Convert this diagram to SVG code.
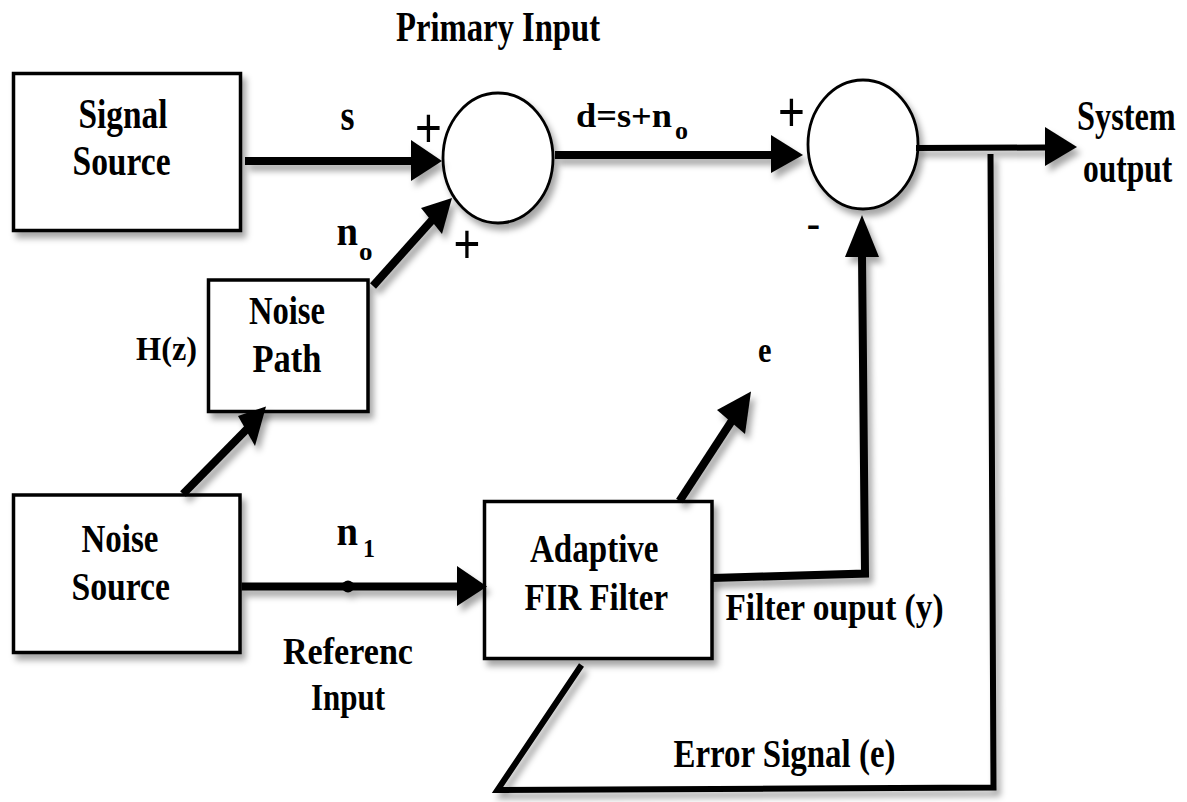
<svg xmlns="http://www.w3.org/2000/svg" width="1187" height="802" viewBox="0 0 1187 802">
<defs>
<filter id="sh" x="-20%" y="-20%" width="140%" height="140%">
<feDropShadow dx="4" dy="6" stdDeviation="3" flood-color="#000" flood-opacity="0.35"/>
</filter>
<style>
.box{fill:#fff;stroke:#000;stroke-width:3.5;filter:url(#sh)}
.sum{fill:#fff;stroke:#000;stroke-width:2.8;filter:url(#sh)}
.ln{fill:none;stroke:#000;stroke-width:8;stroke-linejoin:miter}
.ln2{fill:none;stroke:#000;stroke-width:6;stroke-linejoin:miter}
.ah{fill:#000;stroke:none}
.t{font-family:"Liberation Serif","Times New Roman",serif;font-weight:bold;fill:#000}
.sg{font-family:"Liberation Sans",Arial,sans-serif;font-weight:normal;fill:#000}
</style>
</defs>
<rect width="1187" height="802" fill="#fff"/>

<text class="t" x="396" y="41" font-size="42" textLength="204" lengthAdjust="spacingAndGlyphs">Primary Input</text>

<g id="signal-source">
<rect class="box" x="13.5" y="73.5" width="227" height="157"/>
<text class="t" x="78.5" y="127.5" font-size="42" textLength="89" lengthAdjust="spacingAndGlyphs">Signal</text>
<text class="t" x="72.5" y="175" font-size="42" textLength="98" lengthAdjust="spacingAndGlyphs">Source</text>
</g>

<g id="noise-path">
<rect class="box" x="208.5" y="280" width="159.5" height="131.5"/>
<text class="t" x="249" y="323.5" font-size="40" textLength="76" lengthAdjust="spacingAndGlyphs">Noise</text>
<text class="t" x="252.5" y="371.5" font-size="40" textLength="69" lengthAdjust="spacingAndGlyphs">Path</text>
<text class="t" x="136" y="360" font-size="34" textLength="61" lengthAdjust="spacingAndGlyphs">H(z)</text>
</g>

<g id="noise-source">
<rect class="box" x="13.5" y="495" width="226.5" height="157.5"/>
<text class="t" x="81.5" y="551.5" font-size="40" textLength="77" lengthAdjust="spacingAndGlyphs">Noise</text>
<text class="t" x="71.5" y="600" font-size="40" textLength="98.5" lengthAdjust="spacingAndGlyphs">Source</text>
</g>

<g id="adaptive-filter">
<rect class="box" x="484.5" y="501.5" width="227.5" height="157"/>
<text class="t" x="530" y="561.5" font-size="40" textLength="128.5" lengthAdjust="spacingAndGlyphs">Adaptive</text>
<text class="t" x="524.5" y="610" font-size="38" textLength="143.5" lengthAdjust="spacingAndGlyphs">FIR Filter</text>
</g>

<g id="sum1">
<ellipse class="sum" cx="498" cy="158" rx="55" ry="65"/>
<text class="sg" transform="translate(428.5,127.5) scale(1,1.2)" y="16" font-size="46" text-anchor="middle">+</text>
<text class="sg" transform="translate(467,244) scale(1,1.2)" y="16" font-size="46" text-anchor="middle">+</text>
</g>

<g id="sum2">
<ellipse class="sum" cx="863" cy="144.5" rx="55" ry="64.5"/>
<text class="sg" transform="translate(791.5,111.5) scale(1,1.2)" y="16" font-size="46" text-anchor="middle">+</text>
<text class="t" x="813.5" y="237" font-size="40" text-anchor="middle">-</text>
</g>

<g id="connectors" filter="url(#sh)">
<line class="ln" x1="245" y1="161" x2="413" y2="161"/>
<polygon class="ah" points="442,161 411,140 411,181"/>

<line class="ln" x1="555" y1="155" x2="774" y2="155"/>
<polygon class="ah" points="803,155 771,135 771,173"/>

<line class="ln" x1="373" y1="286" x2="433" y2="219"/>
<polygon class="ah" points="452,198 421,208 442,234"/>

<line class="ln" x1="183" y1="494" x2="248" y2="428"/>
<polygon class="ah" points="266,406.5 238,416 255,446"/>

<line class="ln" x1="241.5" y1="586.5" x2="460" y2="586.5"/>
<circle cx="348" cy="586.5" r="6" fill="#000"/>
<polygon class="ah" points="487,586.5 457,566 457,606"/>

<line class="ln" x1="679.5" y1="501" x2="733" y2="419"/>
<polygon class="ah" points="751,391.5 717,410 745,434"/>

<polyline class="ln" points="712,578 865,573.5 862,255"/>
<polygon class="ah" points="862,215 845,257 879,257"/>

<line class="ln2" x1="916" y1="148" x2="1047" y2="147.5"/>
<polygon class="ah" points="1077,147 1045,127 1045,166"/>

<polyline class="ln2" points="581.5,665 497.5,790 993.5,787.5 990.5,154"/>
</g>

<g id="labels">
<text class="t" x="340.5" y="130" font-size="44" textLength="14" lengthAdjust="spacingAndGlyphs">s</text>
<text class="t" x="336.5" y="245" font-size="40" textLength="21.5" lengthAdjust="spacingAndGlyphs">n</text>
<text class="t" x="359" y="260" font-size="26" textLength="13.5" lengthAdjust="spacingAndGlyphs">o</text>
<text class="t" x="576" y="127" font-size="33" textLength="96" lengthAdjust="spacingAndGlyphs">d=s+n</text>
<text class="t" x="675" y="138.5" font-size="26" textLength="13" lengthAdjust="spacingAndGlyphs">o</text>
<text class="t" transform="translate(1077,130) scale(0.77,1)" font-size="42">System</text>
<text class="t" transform="translate(1083,182) scale(0.75,1)" font-size="42">output</text>
<text class="t" x="758" y="362" font-size="36" textLength="13.5" lengthAdjust="spacingAndGlyphs">e</text>
<text class="t" x="336.5" y="545" font-size="40" textLength="21.5" lengthAdjust="spacingAndGlyphs">n</text>
<text class="t" x="363" y="557" font-size="26" font-weight="normal" textLength="12" lengthAdjust="spacingAndGlyphs">1</text>
<text class="t" x="283" y="663.5" font-size="38" textLength="130" lengthAdjust="spacingAndGlyphs">Referenc</text>
<text class="t" x="311" y="710" font-size="38" textLength="74" lengthAdjust="spacingAndGlyphs">Input</text>
<text class="t" x="725.5" y="620" font-size="38" textLength="218" lengthAdjust="spacingAndGlyphs">Filter ouput (y)</text>
<text class="t" x="673.5" y="766.5" font-size="40" textLength="222" lengthAdjust="spacingAndGlyphs">Error Signal (e)</text>
</g>
</svg>
